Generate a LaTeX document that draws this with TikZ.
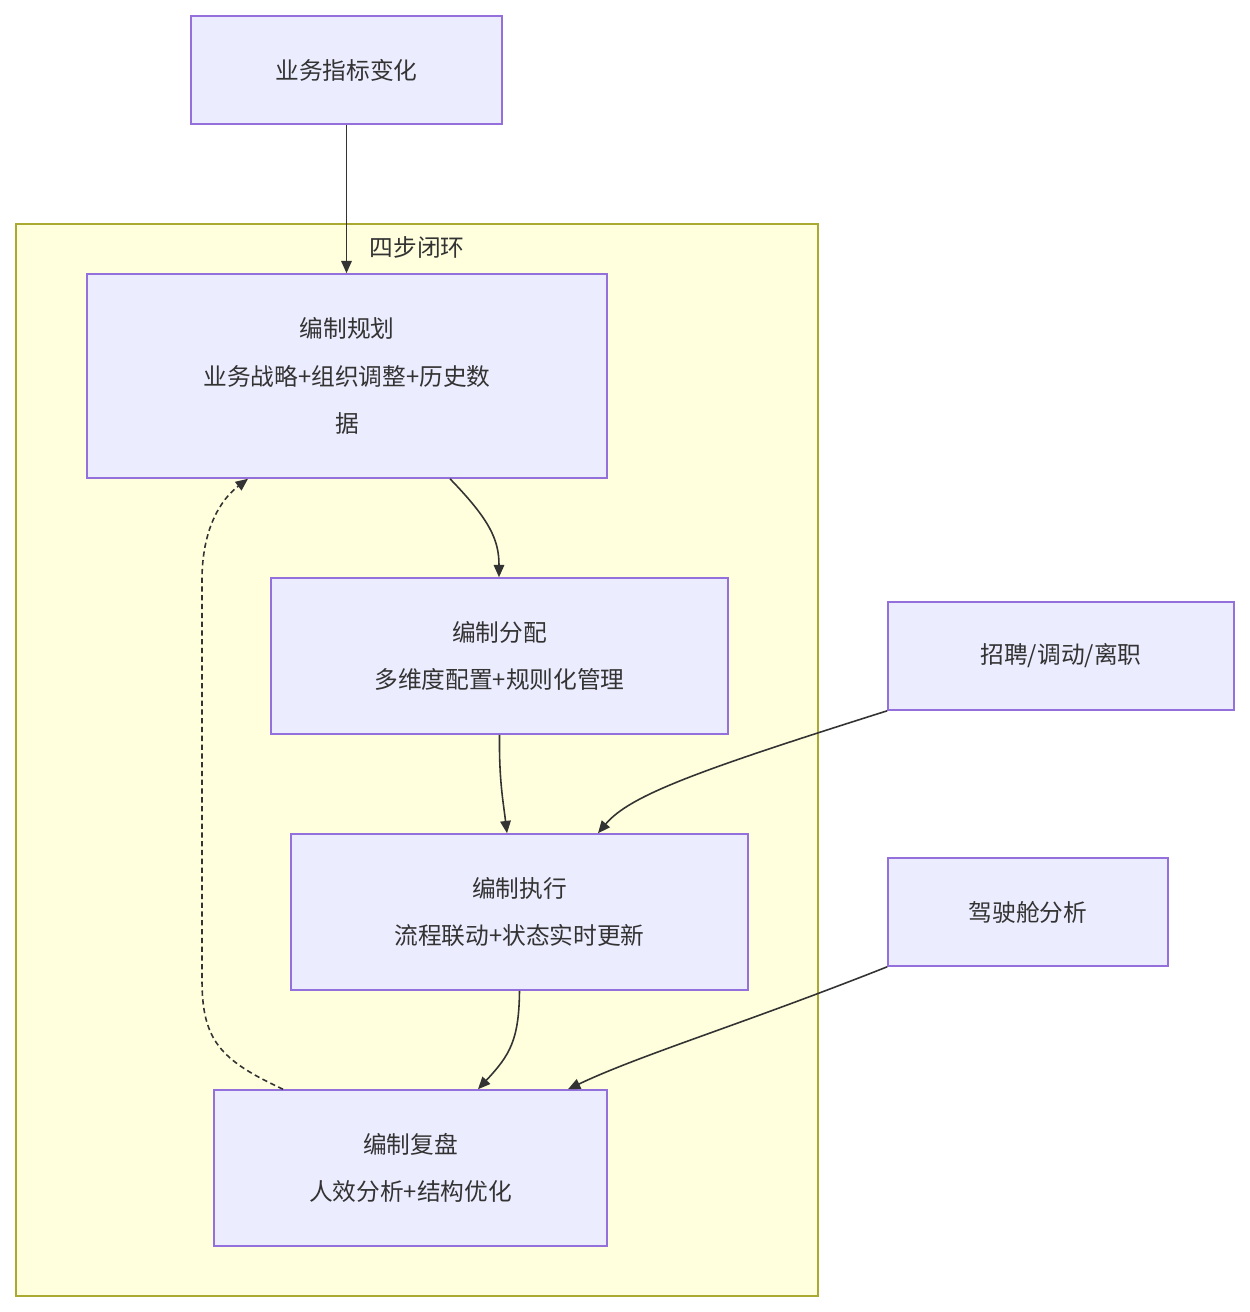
\documentclass[tikz,border=0pt]{standalone}
\usepackage{fontspec}
\setmainfont{Noto Sans CJK SC}
\usetikzlibrary{arrows.meta}
\definecolor{nfill}{HTML}{ECECFF}
\definecolor{nline}{HTML}{9370DB}
\definecolor{cfill}{HTML}{FFFFDE}
\definecolor{cline}{HTML}{AAAA33}
\definecolor{eline}{HTML}{333333}
\begin{document}
\begin{tikzpicture}[x=0.02cm,y=-0.02cm,
  box/.style={draw=nline,fill=nfill,line width=0.9pt,inner sep=0pt,align=center,
    font=\fontsize{13.5pt}{27pt}\selectfont,text=eline},
  edge/.style={draw=eline,line width=0.9pt,-{Triangle[length=7pt,width=6pt]}}]
\useasboundingbox (0,0) rectangle (1249,1312);
\node[draw=cline,fill=cfill,line width=0.9pt,minimum width=802*0.02cm,minimum height=1072*0.02cm,inner sep=0pt] (cl) at (417,760) {};
\node[font=\fontsize{13.5pt}{16pt}\selectfont,text=eline] (cll) at (417,247) {四步闭环};
\node[box,minimum width=311*0.02cm,minimum height=108*0.02cm] (top) at (346.5,70) {业务指标变化};
\node[box,minimum width=520*0.02cm,minimum height=204*0.02cm] (a) at (347,376) {编制规划\\业务战略+组织调整+历史数\\据};
\node[box,minimum width=457*0.02cm,minimum height=156*0.02cm] (b) at (499.5,656) {编制分配\\多维度配置+规则化管理};
\node[box,minimum width=457*0.02cm,minimum height=156*0.02cm] (c) at (519.5,912) {编制执行\\流程联动+状态实时更新};
\node[box,minimum width=393*0.02cm,minimum height=156*0.02cm] (d) at (410.5,1168) {编制复盘\\人效分析+结构优化};
\node[box,minimum width=346*0.02cm,minimum height=108*0.02cm] (r) at (1061,656) {招聘/调动/离职};
\node[box,minimum width=280*0.02cm,minimum height=108*0.02cm] (k) at (1028,912) {驾驶舱分析};
\draw[edge] (top.south) -- (a.north -| top.south);
\draw[edge] ([xshift=103*0.02cm]a.south) .. controls (490,520) and (499,540) .. ([xshift=-0.5*0.02cm]b.north);
\draw[edge] (b.south) .. controls (499,780) and (503,800) .. ([xshift=-12.5*0.02cm]c.north);
\draw[edge] (c.south) .. controls (519,1040) and (510,1055) .. ([xshift=67.5*0.02cm]d.north);
\draw[edge] (r.south west) .. controls (700,770) and (630,795) .. ([xshift=78.5*0.02cm]c.north);
\draw[edge] (k.south west) .. controls (740,1025) and (640,1055) .. ([xshift=157.5*0.02cm]d.north);
\draw[edge,dash pattern=on 3pt off 2pt] ([xshift=-127.5*0.02cm]d.north) .. controls (220,1060) and (202,1040) .. (202,980) -- (202,580) .. controls (202,530) and (220,500) .. ([xshift=-99*0.02cm]a.south);
\end{tikzpicture}
\end{document}
